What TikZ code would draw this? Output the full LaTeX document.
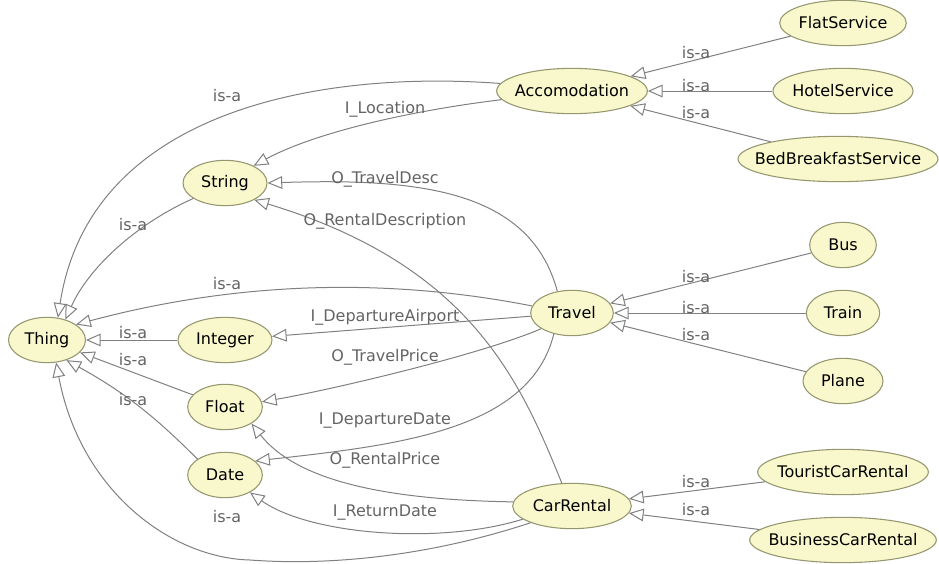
\documentclass[tikz,border=0pt]{standalone}
\usepackage{fontspec}
\setmainfont{DejaVu Sans}
\usetikzlibrary{shapes.geometric, arrows.meta}

\definecolor{clsfill}{RGB}{248,248,204}
\definecolor{clsline}{RGB}{150,150,112}
\definecolor{edgegray}{RGB}{128,128,128}
\definecolor{labgray}{RGB}{100,100,100}

\begin{document}
\begin{tikzpicture}[
    x=0.75pt, y=-0.75pt,
    cls/.style={ellipse, draw=clsline, fill=clsfill, line width=0.8pt, inner sep=0pt, minimum height=34pt, font=\fontsize{12}{14}\selectfont},
    lab/.style={inner sep=0pt, text=labgray, font=\fontsize{12}{14}\selectfont},
    rel/.style={draw=edgegray, line width=0.75pt, -{Triangle[length=11pt, width=9.5pt, fill=white]}}
]
\useasboundingbox (0,0) rectangle (939,564);

% classes
\node[cls, minimum width=57.75pt] (thing) at (47,340) {\makebox[0pt]{Thing}};
\node[cls, minimum width=63pt] (str) at (225,183) {\makebox[0pt]{String}};
\node[cls, minimum width=70.5pt] (int) at (225,340) {\makebox[0pt]{Integer}};
\node[cls, minimum width=56pt] (float) at (225,407) {\makebox[0pt]{Float}};
\node[cls, minimum width=56pt] (date) at (225,475) {\makebox[0pt]{Date}};
\node[cls, minimum width=113pt] (acc) at (572,91) {\makebox[0pt]{Accomodation}};
\node[cls, minimum width=62pt] (travel) at (572,313) {\makebox[0pt]{Travel}};
\node[cls, minimum width=89pt] (car) at (572,506) {\makebox[0pt]{CarRental}};
\node[cls, minimum width=95pt] (flat) at (843,23) {\makebox[0pt]{FlatService}};
\node[cls, minimum width=105pt] (hotel) at (843,91) {\makebox[0pt]{HotelService}};
\node[cls, minimum width=150pt] (bnb) at (838,159) {\makebox[0pt]{BedBreakfastService}};
\node[cls, minimum width=50pt] (bus) at (843,245) {\makebox[0pt]{Bus}};
\node[cls, minimum width=55pt] (train) at (843,313) {\makebox[0pt]{Train}};
\node[cls, minimum width=60pt] (plane) at (843,381) {\makebox[0pt]{Plane}};
\node[cls, minimum width=128pt] (tourist) at (843,472) {\makebox[0pt]{TouristCarRental}};
\node[cls, minimum width=140pt] (business) at (843,540) {\makebox[0pt]{BusinessCarRental}};

% is-a links into Thing
\draw[rel] (acc.174) .. controls (320,70) and (90,110) .. (thing.64);
\draw[rel] (str.206) .. controls (140,222) and (90,265) .. (thing.48);
\draw[rel] (travel.170) .. controls (400,280) and (250,278) .. (thing.28);
\draw[rel] (int) -- (thing);
\draw[rel] (float) -- (thing);
\draw[rel] (date.150) to[bend right=8] (thing.-46);
\draw[rel] (car.202) .. controls (430,556) and (330,566) .. (250,560)
    .. controls (170,558) and (80,490) .. (thing.-68);

% properties
\draw[rel] (acc.187) .. controls (400,112) and (310,135) .. (str.31);
\draw[rel] (travel.124) .. controls (530,190) and (420,178) .. (str.east);
\draw[rel] (car.114) .. controls (520,380) and (470,265) .. (str.-30);
\draw[rel] (travel) -- (int);
\draw[rel] (travel.207) .. controls (480,355) and (330,390) .. (float.8);
\draw[rel] (travel.229) .. controls (530,430) and (400,445) .. (date.25);
\draw[rel] (car.176) .. controls (400,500) and (300,485) .. (float.-32);
\draw[rel] (car.195) .. controls (440,545) and (310,535) .. (date.-35);

% subclasses on the right
\draw[rel] (flat) -- (acc);
\draw[rel] (hotel) -- (acc);
\draw[rel] (bnb) -- (acc);
\draw[rel] (bus) -- (travel);
\draw[rel] (train) -- (travel);
\draw[rel] (plane) -- (travel);
\draw[rel] (tourist) -- (car);
\draw[rel] (business) -- (car);

% labels
\node[lab] (l1) at (227,96) {is-a};
\node[lab] (l2) at (133,225) {is-a};
\node[lab] (l3) at (227,284) {is-a};
\node[lab] (l4) at (133,333) {is-a};
\node[lab] (l5) at (133,360) {is-a};
\node[lab] (l6) at (133,400) {is-a};
\node[lab] (l7) at (227,517) {is-a};
\node[lab] (p1) at (385,109) {I\_Location};
\node[lab] (p2) at (385,179) {O\_TravelDesc};
\node[lab] (p3) at (385,221) {O\_RentalDescription};
\node[lab] (p4) at (385,317) {I\_DepartureAirport};
\node[lab] (p5) at (385,357) {O\_TravelPrice};
\node[lab] (p6) at (385,421) {I\_DepartureDate};
\node[lab] (p7) at (385,460) {O\_RentalPrice};
\node[lab] (p8) at (385,513) {I\_ReturnDate};
\node[lab] (r1) at (696,53) {is-a};
\node[lab] (r2) at (696,86) {is-a};
\node[lab] (r3) at (696,113) {is-a};
\node[lab] (r4) at (696,277) {is-a};
\node[lab] (r5) at (696,308) {is-a};
\node[lab] (r6) at (696,335) {is-a};
\node[lab] (r7) at (696,482) {is-a};
\node[lab] (r8) at (696,510) {is-a};
\end{tikzpicture}
\end{document}
